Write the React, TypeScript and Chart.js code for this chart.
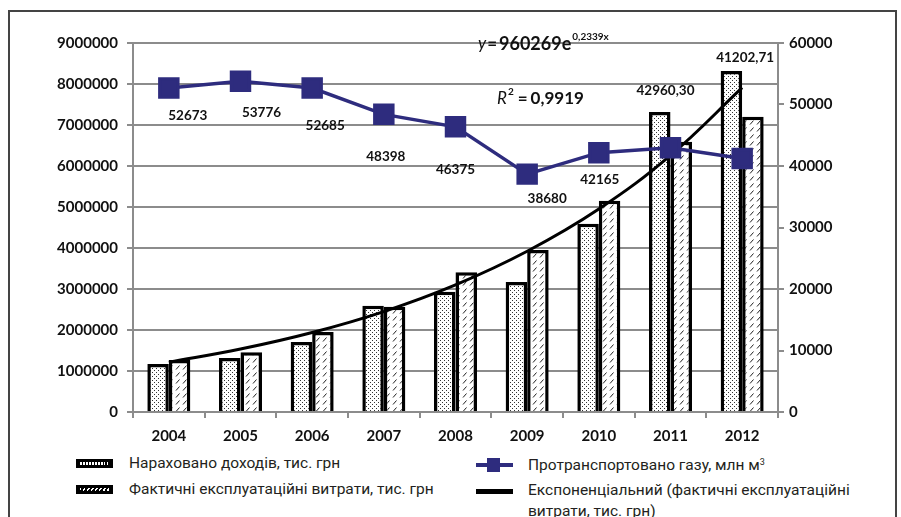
import React, { useEffect, useRef } from "react";
import { Chart, registerables } from "chart.js";

Chart.register(...registerables);

const years = ["2004", "2005", "2006", "2007", "2008", "2009", "2010", "2011", "2012"];
const income = [1170000, 1320000, 1710000, 2590000, 2930000, 3170000, 4590000, 7320000, 8320000];
const expenses = [1270000, 1460000, 1950000, 2570000, 3410000, 3950000, 5150000, 6590000, 7200000];
const gas = [52673, 53776, 52685, 48398, 46375, 38680, 42165, 42960.3, 41202.71];
const trend = [1213000, 1535000, 1939000, 2450000, 3100000, 3920000, 4950000, 6260000, 7910000];

const leftMax = 9000000;
const leftStep = 1000000;
const rightMax = 60000;
const rightStep = 10000;

const equationMain = "960269e";
const equationExp = "0,2339x";
const rSquared = "0,9919";

const legendItems = [
  "Нараховано доходів, тис. грн",
  "Фактичні експлуатаційні витрати, тис. грн",
  "Протранспортовано газу, млн м",
  "Експоненціальний (фактичні експлуатаційні",
  "витрати, тис. грн)",
];

// label offsets (px) relative to each gas point
const labelDx = [19, 21, 13, 2, 0, 20, 1, -5, 3];
const labelDy = [28, 31, 38, 42, 43, 25, 27, -57, -101];

const NAVY = "#2e2c7e";
const GRID = "#8c8c8c";
const FONT = "Lato";

function fmt(v: number) {
  return Number.isInteger(v) ? String(v) : v.toFixed(2).replace(".", ",");
}

function dotPattern(): CanvasPattern | string {
  const c = document.createElement("canvas");
  c.width = 4;
  c.height = 4;
  const g = c.getContext("2d")!;
  g.fillStyle = "#fff";
  g.fillRect(0, 0, 4, 4);
  g.fillStyle = "#333";
  g.fillRect(0, 0, 1, 1);
  g.fillRect(2, 2, 1, 1);
  return g.createPattern(c, "repeat") || "#ddd";
}

function hatchPattern(): CanvasPattern | string {
  const c = document.createElement("canvas");
  c.width = 7;
  c.height = 7;
  const g = c.getContext("2d")!;
  g.fillStyle = "#fff";
  g.fillRect(0, 0, 7, 7);
  g.strokeStyle = "#222";
  g.lineWidth = 1;
  g.beginPath();
  g.moveTo(1, 5.5);
  g.lineTo(4.5, 1.5);
  g.stroke();
  return g.createPattern(c, "repeat") || "#ccc";
}

const labelPlugin = {
  id: "customLabels",
  afterDatasetsDraw(chart: any) {
    const ctx = chart.ctx as CanvasRenderingContext2D;
    const meta = chart.getDatasetMeta(2);
    ctx.save();
    ctx.fillStyle = "#111";
    ctx.font = `bold 13.5px ${FONT}`;
    ctx.textAlign = "center";
    ctx.textBaseline = "middle";
    meta.data.forEach((pt: any, i: number) => {
      ctx.fillText(fmt(gas[i]), pt.x + labelDx[i], pt.y + labelDy[i]);
    });

    ctx.textAlign = "left";
    let x = 478;
    const y = 44;
    ctx.font = `italic 17px ${FONT}`;
    ctx.fillText("y", x, y);
    x += ctx.measureText("y").width + 1;
    ctx.font = `bold 17px ${FONT}`;
    ctx.fillText("=", x, y);
    x += ctx.measureText("=").width + 2;
    ctx.font = `bold 18px ${FONT}`;
    ctx.fillText(equationMain, x, y);
    x += ctx.measureText(equationMain).width + 1;
    ctx.font = `bold 10px ${FONT}`;
    ctx.fillText(equationExp, x, y - 7);

    let x2 = 497;
    const y2 = 99;
    ctx.font = `italic 17px ${FONT}`;
    ctx.fillText("R", x2, y2);
    x2 += ctx.measureText("R").width + 1;
    ctx.font = `bold 10px ${FONT}`;
    ctx.fillText("2", x2, y2 - 7);
    x2 += ctx.measureText("2").width + 4;
    ctx.font = `bold 17px ${FONT}`;
    ctx.fillText("=", x2, y2);
    x2 += ctx.measureText("=").width + 3;
    ctx.fillText(rSquared, x2, y2);
    ctx.restore();
  },
};

function ChartCanvas() {
  const ref = useRef<HTMLCanvasElement>(null);
  useEffect(() => {
    if (!ref.current) return;
    const tickFont = { family: FONT, size: 15, weight: "bold" as const };
    const chart = new Chart(ref.current, {
      type: "bar",
      data: {
        labels: years,
        datasets: [
          {
            type: "bar",
            data: income,
            yAxisID: "y",
            backgroundColor: dotPattern() as any,
            borderColor: "#000",
            borderWidth: 3.5,
            categoryPercentage: 0.6,
            barPercentage: 1.0,
            order: 3,
          },
          {
            type: "bar",
            data: expenses,
            yAxisID: "y",
            backgroundColor: hatchPattern() as any,
            borderColor: "#000",
            borderWidth: 3.5,
            categoryPercentage: 0.6,
            barPercentage: 1.0,
            order: 3,
          },
          {
            type: "line",
            data: gas,
            yAxisID: "y1",
            borderColor: NAVY,
            backgroundColor: NAVY,
            borderWidth: 3.5,
            pointStyle: "rect",
            pointRadius: 12.7,
            pointBackgroundColor: NAVY,
            pointBorderColor: NAVY,
            tension: 0,
            clip: false as any,
            order: 1,
          },
          {
            type: "line",
            data: trend,
            yAxisID: "y",
            borderColor: "#000",
            borderWidth: 3,
            pointRadius: 0,
            tension: 0.4,
            order: 2,
          },
        ] as any,
      },
      options: {
        responsive: false,
        animation: false,
        events: [],
        layout: { padding: { left: 0, right: 0, top: 43, bottom: 0 } },
        plugins: { legend: { display: false }, tooltip: { enabled: false } },
        scales: {
          x: {
            offset: true,
            grid: {
              offset: true,
              drawOnChartArea: false,
              drawTicks: true,
              tickLength: 6,
              color: GRID,
              lineWidth: 2,
            },
            border: { display: true, color: GRID, width: 2 },
            ticks: { font: tickFont, color: "#111", padding: 9 },
            afterFit: (s: any) => {
              s.height = 38;
            },
          },
          y: {
            position: "left",
            min: 0,
            max: leftMax,
            grid: { color: GRID, lineWidth: 2, tickLength: 6, drawTicks: true },
            border: { display: true, color: GRID, width: 2 },
            ticks: {
              stepSize: leftStep,
              font: tickFont,
              color: "#111",
              padding: 9,
              callback: (v: any) => String(v),
            },
            afterFit: (s: any) => {
              s.width = 133;
            },
          },
          y1: {
            position: "right",
            min: 0,
            max: rightMax,
            grid: { drawOnChartArea: false, color: GRID, lineWidth: 2, tickLength: 6, drawTicks: true },
            border: { display: true, color: GRID, width: 2 },
            ticks: {
              stepSize: rightStep,
              font: tickFont,
              color: "#111",
              padding: 5,
              callback: (v: any) => String(v),
            },
            afterFit: (s: any) => {
              s.width = 123;
            },
          },
        },
      } as any,
      plugins: [labelPlugin],
    });
    return () => chart.destroy();
  }, []);
  return <canvas ref={ref} width={901} height={450} style={{ display: "block" }} />;
}

const textStyle: React.CSSProperties = {
  position: "absolute",
  fontFamily: "Roboto, 'Noto Sans', sans-serif",
  fontSize: 15.5,
  lineHeight: "20px",
  color: "#231f20",
  whiteSpace: "nowrap",
};

function BarIcon({ left, top, hatch }: { left: number; top: number; hatch: boolean }) {
  return (
    <div style={{ position: "absolute", left, top, width: 37, height: 9, background: "#000" }}>
      <div
        style={{
          position: "absolute",
          left: 4,
          top: 3,
          width: 29,
          height: 3,
          background: hatch
            ? "repeating-linear-gradient(120deg, #fff 0 1.5px, #000 1.5px 3.5px)"
            : "repeating-linear-gradient(90deg, #fff 0 1.5px, #000 1.5px 3px)",
        }}
      />
    </div>
  );
}

export default function App() {
  return (
    <div style={{ position: "fixed", left: 0, top: 0, width: 901, height: 517, background: "#fff", overflow: "hidden" }}>
      <div
        style={{
          position: "absolute",
          left: 8,
          top: 10,
          width: 889,
          height: 600,
          border: "2px solid #444",
          boxSizing: "border-box",
        }}
      />
      <div style={{ position: "absolute", left: 0, top: 0 }}>
        <ChartCanvas />
      </div>
      <BarIcon left={76} top={459} hatch={false} />
      <div style={{ ...textStyle, left: 129, top: 453 }}>{legendItems[0]}</div>
      <BarIcon left={76} top={485} hatch={true} />
      <div style={{ ...textStyle, left: 129, top: 479 }}>{legendItems[1]}</div>

      <div style={{ position: "absolute", left: 476, top: 463, width: 37, height: 4, background: NAVY }} />
      <div style={{ position: "absolute", left: 487, top: 458, width: 13, height: 14, background: NAVY }} />
      <div style={{ ...textStyle, left: 528, top: 455 }}>
        {legendItems[2]}
        <sup style={{ fontSize: 9, verticalAlign: "top", lineHeight: "14px" }}>3</sup>
      </div>

      <div style={{ position: "absolute", left: 476, top: 489, width: 37, height: 5, background: "#000" }} />
      <div style={{ ...textStyle, left: 528, top: 480 }}>{legendItems[3]}</div>
      <div style={{ ...textStyle, left: 528, top: 501 }}>{legendItems[4]}</div>
    </div>
  );
}
